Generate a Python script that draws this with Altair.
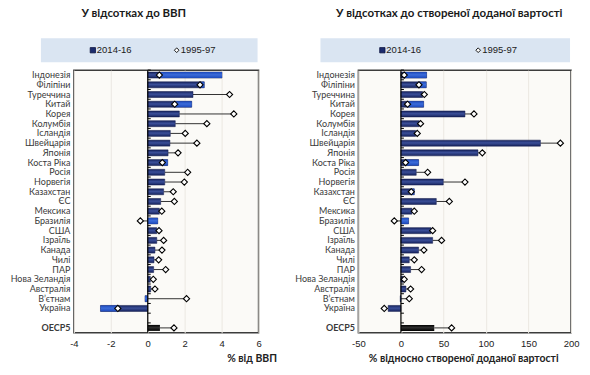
import altair as alt
import pandas as pd

countries = ["Індонезія", "Філіпіни", "Туреччина", "Китай", "Корея", "Колумбія", "Ісландія",
             "Швейцарія", "Японія", "Коста Ріка", "Росія", "Норвегія", "Казахстан", "ЄС",
             "Мексика", "Бразилія", "США", "Ізраїль", "Канада", "Чилі", "ПАР", "Нова Зеландія",
             "Австралія", "В’єтнам", "Україна", "OECP5"]
gdp_2014_16 = [4.02, 3.06, 2.45, 2.38, 1.71, 1.49, 1.22, 1.20, 1.10, 1.08, 0.92, 0.92, 0.86, 0.70,
               0.63, 0.54, 0.49, 0.49, 0.39, 0.34, 0.32, 0.14, 0.16, -0.15, -2.56, 0.66]
gdp_1995_97 = [0.63, 2.83, 4.43, 1.46, 4.66, 3.20, 2.03, 2.66, 1.64, 0.79, 2.16, 1.98, 1.38, 1.44,
               0.76, -0.40, 0.61, 0.86, 0.77, 0.59, 0.97, 0.30, 0.39, 2.10, -1.62, 1.42]
va_2014_16 = [30.2, 29.8, 25.5, 26.7, 75.3, 21.6, 17.3, 164.0, 90.6, 20.8, 18.0, 49.8, 15.7, 41.6,
              12.9, 9.0, 35.3, 37.3, 20.8, 9.8, 11.4, 2.7, 5.9, -0.8, -15.0, 39.2]
va_1995_97 = [3.9, 21.2, 27.5, 7.8, 85.9, 23.1, 19.2, 187.5, 95.7, 5.5, 31.4, 75.3, 12.2, 56.9,
              15.7, -7.8, 37.3, 47.8, 27.0, 15.7, 24.3, 3.9, 11.4, 9.8, -19.6, 59.6]

GAP = "_gap"
order = countries[:-1] + [GAP] + countries[-1:]

df = pd.DataFrame({"country": countries, "g_v": gdp_2014_16, "g_d": gdp_1995_97,
                   "a_v": va_2014_16, "a_d": va_1995_97})
rows = pd.DataFrame({"country": order, "z": [0] * len(order)})

LABEL_FONT = "Lato"
NUM_FONT = "Liberation Sans"
H = 263

def grad(c_edge, c_mid):
    return alt.Gradient(gradient="linear", x1=0, x2=0, y1=0, y2=1,
                        stops=[alt.GradientStop(color=c_edge, offset=0),
                               alt.GradientStop(color=c_mid, offset=0.45),
                               alt.GradientStop(color=c_edge, offset=1)])

def panel(vcol, dcol, domain, ticks, width, title, title_x, xtitle, xtitle_x,
          box_x0, box_x1, sq_x, dia_x, anchor):
    xs = alt.Scale(domain=domain, nice=False, zero=False)
    yenc = alt.Y("country:N", scale=alt.Scale(domain=order, paddingInner=0, paddingOuter=0),
                 title=None,
                 axis=alt.Axis(labelFont=LABEL_FONT, labelFontSize=9, labelColor="#3a3a3a",
                               labelPadding=4, ticks=False, domain=False, grid=False,
                               labelExpr=f"datum.value == '{GAP}' ? '' : datum.value",
                               labelFontWeight={"expr": "datum.value == 'OECP5' ? 'bold' : 'normal'"}))
    xaxis = alt.Axis(values=ticks, labelFont=NUM_FONT, labelFontSize=9.5, labelColor="#222",
                     labelOverlap=False, labelFlush=False, labelBound=False,
                     labelExpr="replace(datum.label, '−', '-')",
                     ticks=False, domain=False, labelPadding=6, grid=True,
                     gridColor="#ebe8e2", gridWidth=1,
                     title=xtitle, titleFont=LABEL_FONT, titleFontSize=10.5, titleFontWeight="bold",
                     titleColor="#222", titleX=xtitle_x, titleY=26, titleAlign="center",
                     titleBaseline="middle")

    def X(field):
        return alt.X(field, scale=xs, axis=xaxis)

    base = alt.Chart(df)
    rules = base.mark_rule(color="#333333", strokeWidth=1).encode(
        y=yenc, x=X(f"{vcol}:Q"), x2=f"{dcol}:Q")
    bars = base.transform_filter("datum.country != 'OECP5'").mark_bar(
        size=6, fill=grad("#17245e", "#3a4e98"), stroke="#10194a", strokeWidth=0.5).encode(
        y=alt.Y("country:N"), x=X(f"{vcol}:Q"))
    bright = base.transform_calculate(
        lo=f"datum.{vcol} >= 0 ? max(datum.{dcol}, 0) : min(datum.{dcol}, 0)"
    ).transform_filter(
        f"datum.country != 'OECP5' && abs(datum.{vcol}) > abs(datum.lo)"
    ).mark_bar(size=6, fill=grad("#1c48bb", "#3b6bd9")).encode(
        y=alt.Y("country:N"), x=X(f"{vcol}:Q"), x2="lo:Q")
    oecd = base.transform_filter("datum.country == 'OECP5'").mark_bar(
        size=6, fill=grad("#000000", "#2e2e2e")).encode(
        y=alt.Y("country:N"), x=X(f"{vcol}:Q"))
    zero = alt.Chart(pd.DataFrame({"z": [0]})).mark_rule(color="#000000", strokeWidth=1.2).encode(
        x=X("z:Q"))
    zticks = alt.Chart(rows).mark_rule(color="#000000", strokeWidth=1, x2Offset=3,
                                       yOffset=-5).encode(
        y=alt.Y("country:N"), x=X("z:Q"), x2="z:Q")
    pts = base.mark_point(shape="diamond", filled=True, fill="white", stroke="#000000",
                          strokeWidth=1.1, size=38, opacity=1).encode(
        y=alt.Y("country:N"), x=X(f"{dcol}:Q"))

    # decorations: title, legend box
    ttl = alt.Chart(pd.DataFrame({"t": [title]})).mark_text(
        font=LABEL_FONT, fontSize=11.5, fontWeight="bold", color="#1a1a1a", align="center",
        baseline="middle").encode(text="t:N", x=alt.value(title_x), y=alt.value(-56))
    box = alt.Chart(pd.DataFrame({"b": [1]})).mark_rect(fill="#dae5f2").encode(
        x=alt.value(box_x0), x2=alt.value(box_x1), y=alt.value(-32), y2=alt.value(-8))
    sq = alt.Chart(pd.DataFrame({"b": [1]})).mark_point(
        shape="square", filled=True, fill="#1c2c6e", stroke="#0d1440", strokeWidth=0.8,
        size=28, opacity=1).encode(x=alt.value(sq_x), y=alt.value(-20))
    dia = alt.Chart(pd.DataFrame({"b": [1]})).mark_point(
        shape="diamond", filled=True, fill="white", stroke="#000", strokeWidth=0.9,
        size=22, opacity=1).encode(x=alt.value(dia_x), y=alt.value(-20))
    leg_txt = alt.Chart(pd.DataFrame({"t": ["2014-16", "1995-97"],
                                      "px": [sq_x + 4, dia_x + 4]})).mark_text(
        font=NUM_FONT, fontSize=9.5, color="#1a1a1a", align="left", baseline="middle").encode(
        text="t:N", x=alt.X("px:Q", scale=None), y=alt.value(-20))
    anc = alt.Chart(pd.DataFrame({"b": [1]})).mark_rect(opacity=0).encode(
        x=alt.value(anchor[0]), x2=alt.value(anchor[0] + 1),
        y=alt.value(anchor[1]), y2=alt.value(anchor[1] + 1))
    return alt.layer(rules, anc, box, ttl, sq, dia, leg_txt, bars, bright, oecd, zero, zticks,
                     pts).properties(width=width, height=H)

left = panel("g_v", "g_d", [-4, 6], [-4, -2, 0, 2, 4, 6], 185,
             "У відсотках до ВВП", 60, "% від ВВП", 178,
             -33, 184, 19, 103, (-73, -69))
right = panel("a_v", "a_d", [-50, 200], [-50, 0, 50, 100, 150, 200], 213,
              "У відсотках до створеної доданої вартості", 91,
              "% відносно створеної доданої вартості", 105,
              -38, 212, 24, 120, (230, 305))

chart = alt.hconcat(left, right, spacing=100, bounds="flush").properties(
    padding=0, background="white"
).configure_view(fill="#fbfaf7", stroke="#3c3c3c", strokeWidth=1.5)

chart.save("out.html", embed_options={"renderer": "svg", "actions": False})
